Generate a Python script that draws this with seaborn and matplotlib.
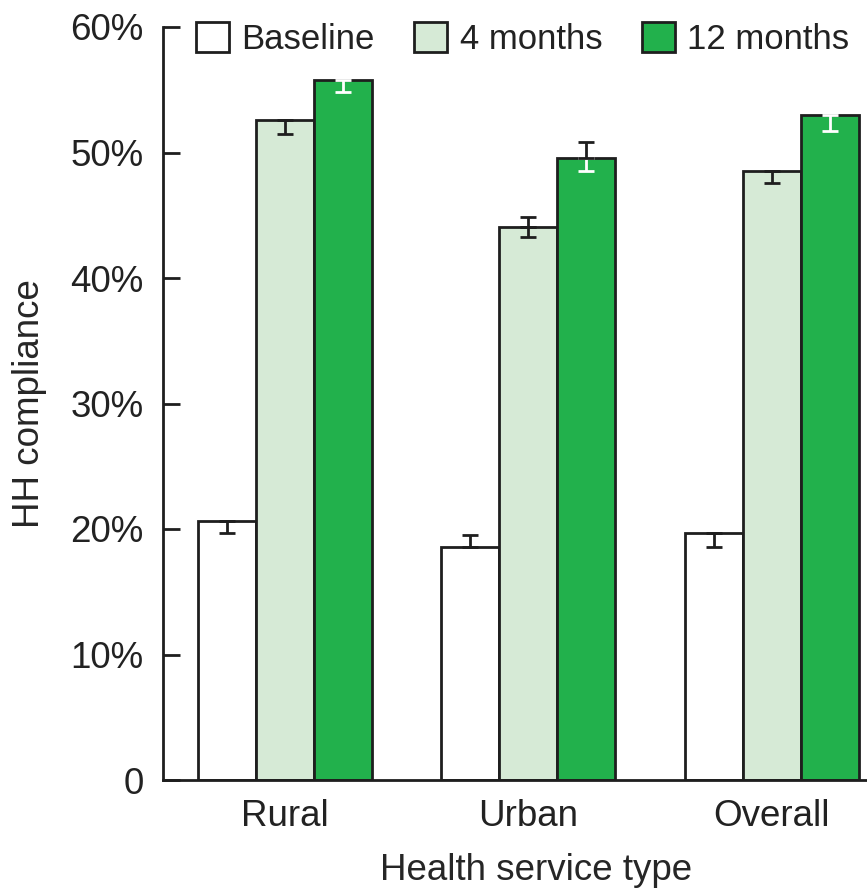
import numpy as np
import pandas as pd
import matplotlib.pyplot as plt
import seaborn as sns

# data (HH compliance, %)
service_types = ['Rural', 'Urban', 'Overall']
periods = ['Baseline', '4 months', '12 months']
baseline = [20.6, 18.6, 19.7]
months_4 = [52.6, 44.1, 48.5]
months_12 = [55.8, 49.6, 53.0]

# error bars: only the visible halves are drawn in the original
baseline_lo = [0.95, 0.0, 1.1]
baseline_hi = [0.0, 0.9, 0.0]
months_4_lo = [1.1, 0.8, 0.9]
months_4_hi = [0.0, 0.8, 0.0]
months_12_lo = [1.0, 1.1, 1.3]
months_12_hi = [0.0, 1.2, 0.0]

y_ticks = [0, 10, 20, 30, 40, 50, 60]
y_ticklabels = ['0', '10%', '20%', '30%', '40%', '50%', '60%']

colors = ['#ffffff', '#d6ead6', '#22b14c']
whisker_colors = ['#1e1e1e', '#1e1e1e', '#ffffff']
ink = '#1e1e1e'
fs = 26.5

rows = []
for period, vals in zip(periods, [baseline, months_4, months_12]):
    for t, v in zip(service_types, vals):
        rows.append({'type': t, 'period': period, 'value': v})
df = pd.DataFrame(rows)

sns.set_style('ticks')
plt.rcParams['font.family'] = ['Liberation Sans', 'DejaVu Sans']
plt.rcParams['text.color'] = '#222222'

fig = plt.figure(figsize=(8.67, 8.9), dpi=100)
ax = fig.add_axes([163 / 867, 1 - 780 / 890, (867 - 163) / 867, (780 - 27) / 890])

sns.barplot(data=df, x='type', y='value', hue='period', hue_order=periods,
            palette=colors, saturation=1, width=0.715, edgecolor=ink,
            linewidth=2.0, errorbar=None, ax=ax)

# error bars, lower half in series colour, upper half black
lows = [baseline_lo, months_4_lo, months_12_lo]
highs = [baseline_hi, months_4_hi, months_12_hi]
for cont, lo, hi, wc in zip(ax.containers, lows, highs, whisker_colors):
    xs = np.array([p.get_x() + p.get_width() / 2 for p in cont])
    ys = np.array([p.get_height() for p in cont])
    lo = np.array(lo)
    hi = np.array(hi)
    m = lo > 0
    if m.any():
        ax.errorbar(xs[m], ys[m], yerr=[lo[m], np.zeros(m.sum())], fmt='none',
                    ecolor=wc, elinewidth=2.0, capsize=5.5, capthick=2.0, zorder=5)
    m = hi > 0
    if m.any():
        ax.errorbar(xs[m], ys[m], yerr=[np.zeros(m.sum()), hi[m]], fmt='none',
                    ecolor=ink, elinewidth=2.0, capsize=5.5, capthick=2.0, zorder=6)

ax.set_xlim(-0.5, 2.391)
ax.set_ylim(0, 60)
ax.set_yticks(y_ticks)
ax.set_yticklabels(y_ticklabels)
ax.tick_params(axis='y', direction='in', length=12, width=2.0, pad=14,
               labelsize=fs, color=ink, labelcolor='#222222')
ax.tick_params(axis='x', length=0, pad=14, labelsize=fs, labelcolor='#222222')
sns.despine(ax=ax)
for s in ['left', 'bottom']:
    ax.spines[s].set_linewidth(2.0)
    ax.spines[s].set_color(ink)

ax.set_xlabel('Health service type', fontsize=fs)
ax.xaxis.set_label_coords((536 - 163) / 704, -0.097)
ax.set_ylabel('HH compliance', fontsize=fs)
ax.yaxis.set_label_coords(-0.165, 0.5)

handles, labels = ax.get_legend_handles_labels()
ax.get_legend().remove()
fig.legend(handles, labels, loc='center left', bbox_to_anchor=(196 / 867, 1 - 39 / 890),
           ncol=3, frameon=False, fontsize=25, handlelength=0.95, handleheight=0.95,
           handletextpad=0.35, columnspacing=1.15, borderpad=0, borderaxespad=0)

fig.savefig('out.png', dpi=100)
